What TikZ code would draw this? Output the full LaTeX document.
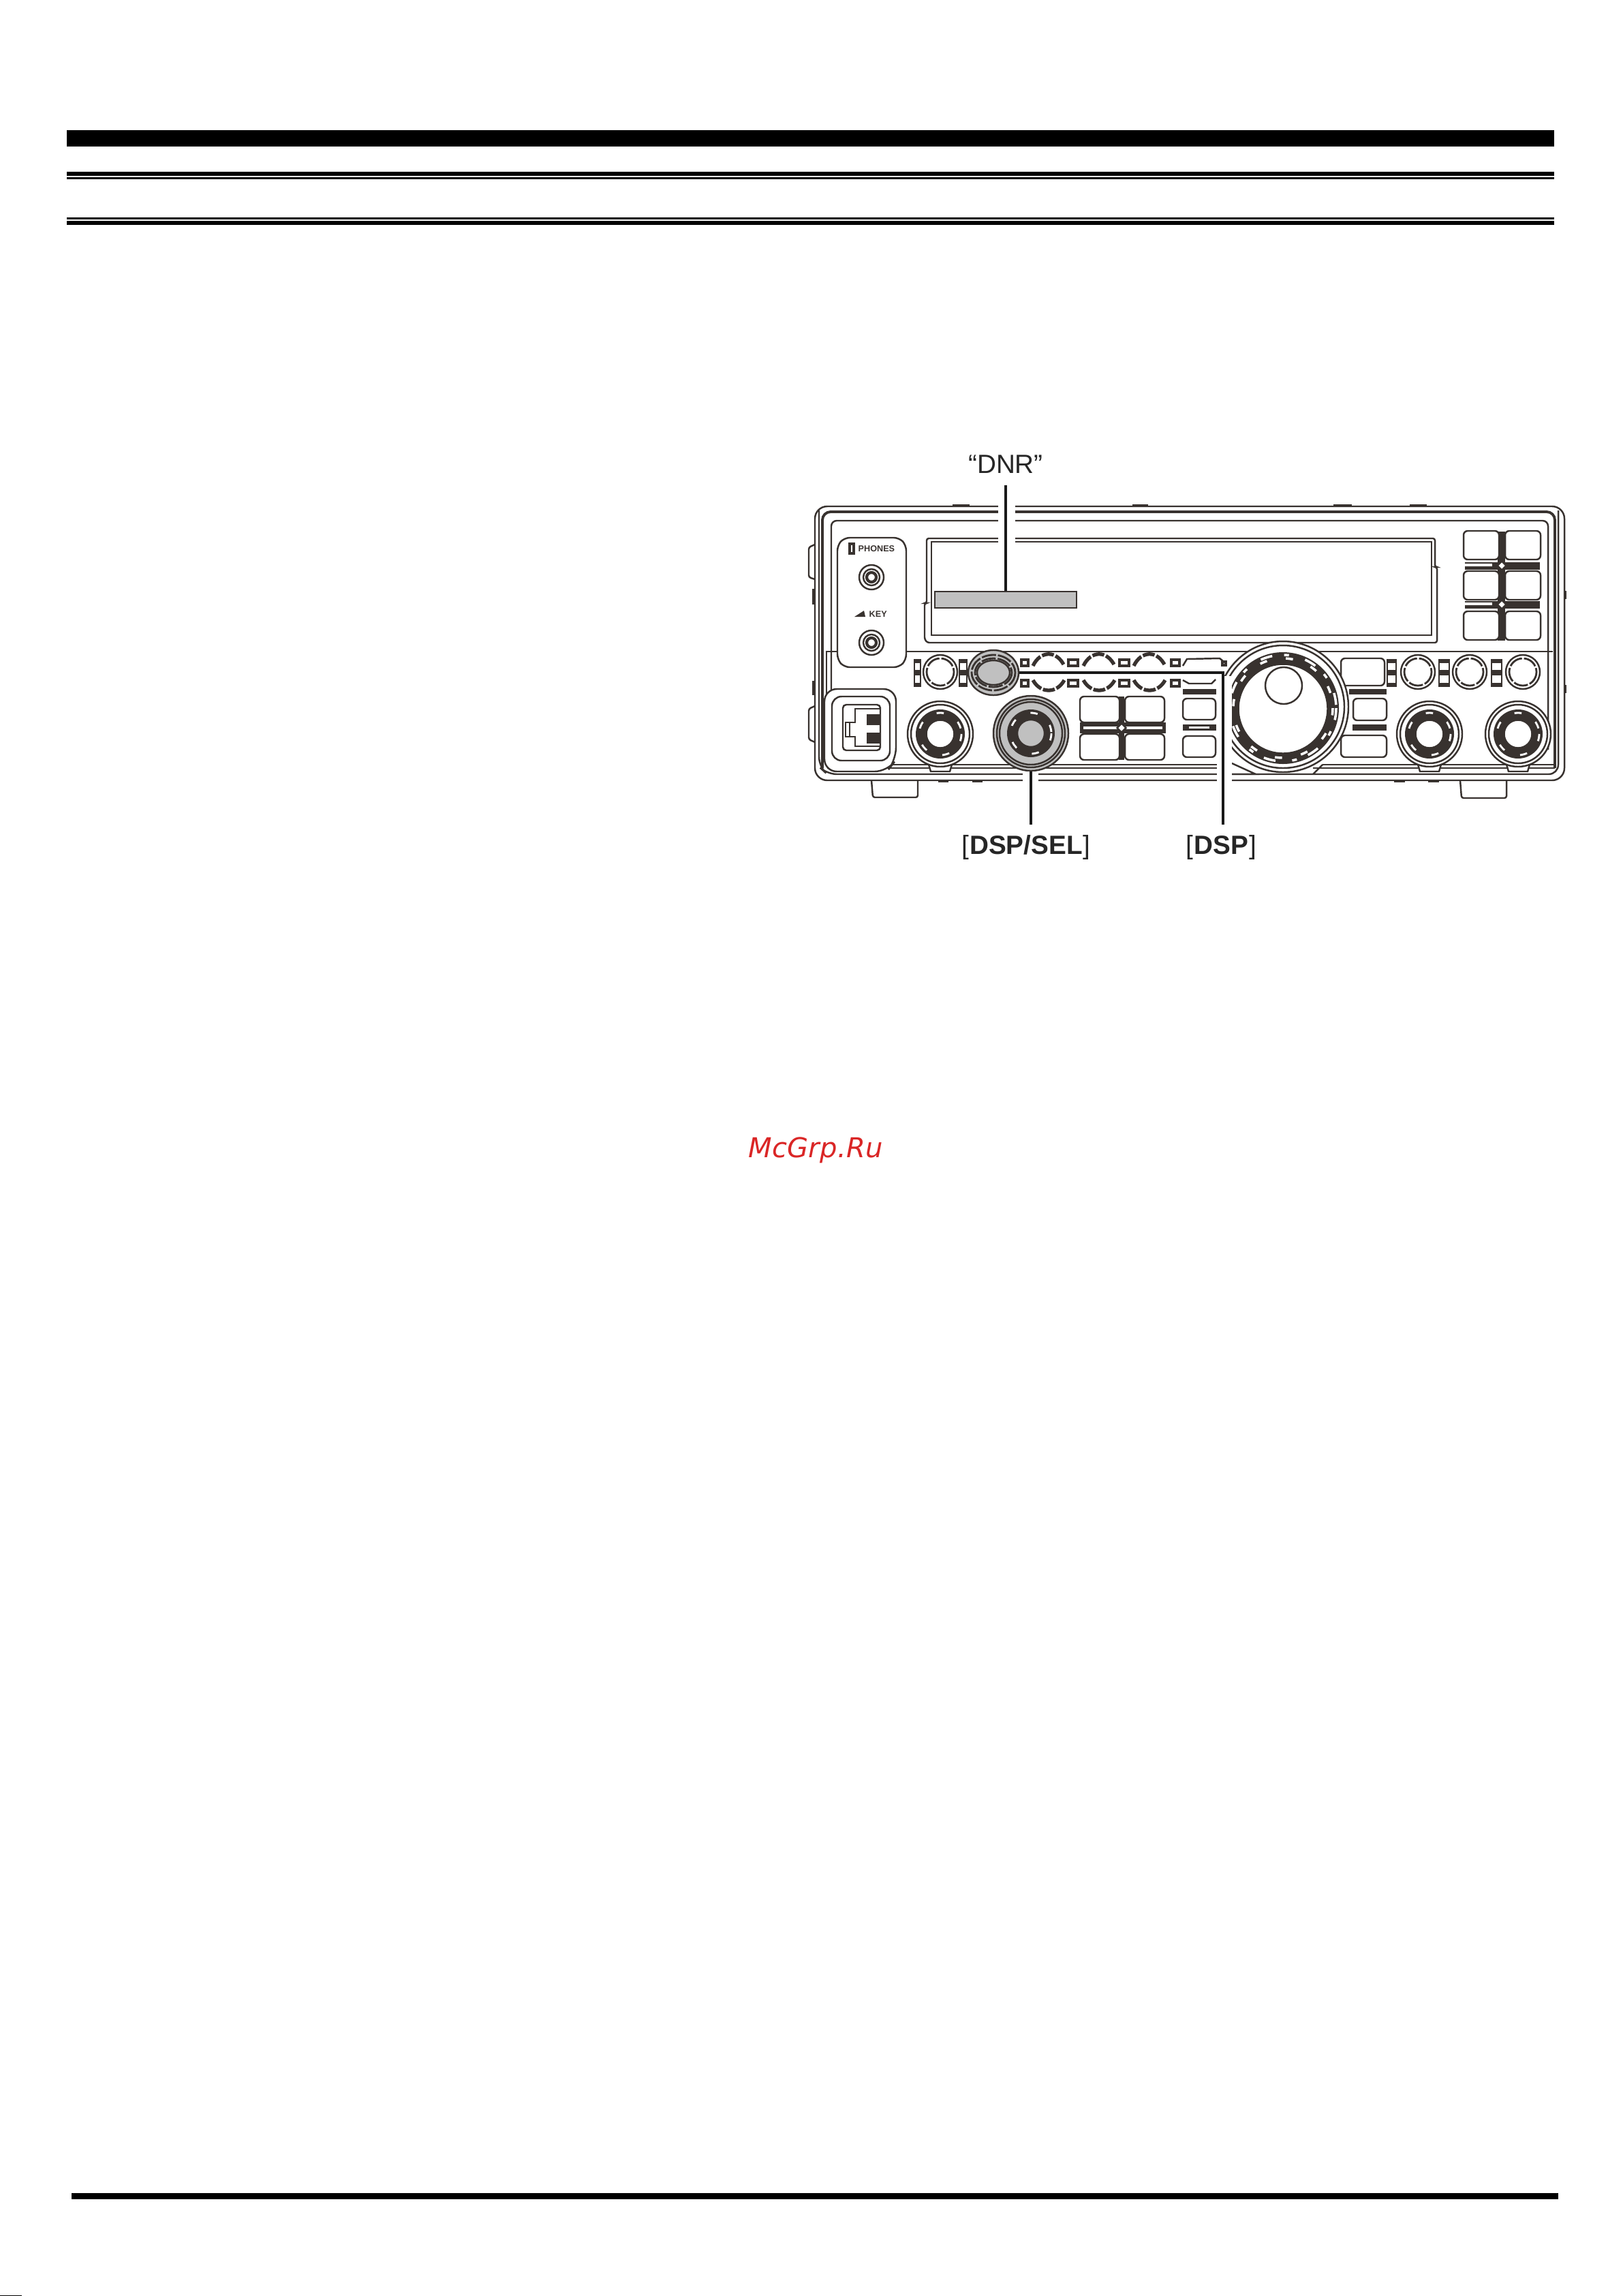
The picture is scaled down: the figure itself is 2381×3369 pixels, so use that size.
\documentclass[tikz,border=0pt]{standalone}
\usepackage{fontspec}
\setmainfont{Liberation Sans}
\newfontfamily\markfont[LetterSpace=0.6]{DejaVu Sans}
\usetikzlibrary{shapes.geometric, positioning, calc}
\definecolor{inkdark}{RGB}{56, 50, 47}
\definecolor{labelink}{RGB}{38, 38, 38}
\definecolor{knobgrey}{RGB}{192, 192, 192}
\definecolor{markred}{RGB}{218, 38, 38}

\begin{document}
\begin{tikzpicture}[
        x=0.01cm, y=-0.01cm,
        rule/.style={fill=black},
        outline/.style={draw=inkdark, line width=0.7pt},
        heavy/.style={draw=inkdark, line width=1.1pt},
        panelkey/.style={outline, fill=white, rounded corners=0.06cm},
        band/.style={fill=inkdark},
        rim/.style={draw=inkdark, line width=0.8pt, dash pattern=on 6pt off 0.8pt},
        beads/.style={draw=inkdark, line width=1.5pt, dash pattern=on 5pt off 0.8pt},
        leader/.style={draw=black!90, line width=1.4pt},
        halo/.style={fill=white},
        crossing/.style={draw=inkdark, line width=0.7pt, fill=white, diamond, inner sep=0pt, minimum size=0.14cm},
        callout/.style={inner sep=0pt, font=\fontsize{11}{13}\selectfont, text=labelink},
        tiny label/.style={inner sep=0pt, font=\bfseries\fontsize{3.6}{4}\selectfont, text=inkdark}
    ]
        \useasboundingbox (0,0) rectangle (2381,3369);

        % Page rules
        \fill[rule] (98,191) rectangle (2281,215);
        \fill[rule] (98,252) rectangle (2281,258);
        \fill[rule] (98,260) rectangle (2281,263);
        \fill[rule] (98,319) rectangle (2281,322);
        \fill[rule] (98,324) rectangle (2281,330);
        \fill[rule] (105,3218) rectangle (2287,3227);
        \fill[rule] (0,3367.5) rectangle (32,3369);

        % Feet, tabs
        \draw[outline, rounded corners=0.03cm] (1279,1145) -- (1281,1170) -- (1347,1170) -- (1347,1145);
        \draw[outline, rounded corners=0.03cm] (2143,1145) -- (2145,1171) -- (2211,1171) -- (2211,1145);
        \draw[outline, rounded corners=0.03cm] (1196,799) -- (1187,803) -- (1187,847) -- (1196,850);
        \draw[outline, rounded corners=0.03cm] (1196,1036) -- (1187,1040) -- (1187,1085) -- (1196,1089);
        \fill[band] (1192,864) rectangle (1196,887);
        \fill[band] (1192,999) rectangle (1196,1020);
        \foreach \xa/\xb in {1398/1423, 1662/1685, 1957/1984, 2069/2094}
            \fill[band] (\xa,740) rectangle (\xb,743);
        \foreach \xa/\xb in {1377/1392, 1427/1442, 2046/2062, 2096/2112}
            \fill[band] (\xa,1145) rectangle (\xb,1148);
        \foreach \yy in {873, 1011}
            \fill[band] (2296,\yy-6) rectangle (2299,\yy+6);

        % Case
        \draw[outline, rounded corners=0.18cm] (1196,743) rectangle (2296,1145);
        \draw[outline, rounded corners=0.14cm] (1202,749) -- (1202,1125) -- (1214,1136) -- (2287,1136) -- (2287,749);
        \draw[heavy, rounded corners=0.12cm] (1207,1127) -- (1207,751) -- (2282,751) -- (2282,1127);
        \draw[outline, rounded corners=0.08cm] (1220,1060) -- (1220,764) -- (2272,764) -- (2272,1100);
        \draw[outline] (1213,955) -- (1213,1122);
        \draw[outline] (1214,1122) -- (1808,1122);
        \draw[outline] (1214,1127) -- (1808,1127);
        \draw[outline] (1941,1122) -- (2282,1122);
        \draw[outline] (1927,1127) -- (2282,1127);
        \draw[outline] (1808,1136) -- (1843,1136) -- (1808,1120);
        \draw[outline] (1927,1136) -- (1941,1122);
        \draw[outline] (1330,956) -- (2279,956);
        \draw[outline] (1213,956) -- (1229,956);

        % Display
        \draw[outline, rounded corners=0.03cm] (1360,885) -- (1360,790) -- (2106,790) -- (2106,832) -- (2109,832) -- (2109,943) -- (1361,943) -- (1357,938) -- (1357,885) -- cycle;
        \draw[outline] (1367,795) rectangle (2101,932);

        % Phones and key block
        \draw[outline, fill=white, rounded corners=0.08cm] (1229,800) -- (1239,789) -- (1320,789) -- (1330,800) -- (1330,968) -- (1320,979) -- (1239,979) -- (1229,968) -- cycle;
        \draw[outline, line width=1.2pt] (1247,798) rectangle (1253,812);
        \node[tiny label, anchor=west] (phoneslabel) at (1259,805) {PHONES};
        \node[tiny label, anchor=west] (keylabel) at (1275,901) {KEY};
        \fill[band] (1254,905) -- (1268,896) -- (1270,905) -- cycle;
        \foreach \yy in {847, 943} {
            \draw[outline, fill=white] (1279,\yy) circle [radius=18];
            \draw[outline] (1279,\yy) circle [radius=12];
            \draw[outline, line width=1.2pt] (1279,\yy) circle [radius=7];
        }

        % Network jack block
        \draw[outline, fill=white, rounded corners=0.18cm] (1210,1132) -- (1210,1011) -- (1315,1011) -- (1315,1115) -- (1302,1132) -- cycle;
        \draw[outline, rounded corners=0.14cm] (1221,1022) rectangle (1306,1116);
        \draw[outline, rounded corners=0.05cm] (1237,1034) rectangle (1292,1101);
        \draw[outline] (1255,1040) -- (1292,1040) -- (1292,1095) -- (1255,1095) -- (1255,1081) -- (1247,1081) -- (1247,1060) -- (1255,1060) -- cycle;
        \draw[outline] (1241,1060) rectangle (1247,1081);
        \fill[band] (1272,1048) rectangle (1292,1064);
        \fill[band] (1272,1075) rectangle (1292,1091);

        % Row of small knobs
        \foreach \kx in {1380, 2081, 2157, 2235} {
            \draw[outline, fill=white] (\kx,986) circle [radius=25];
            \draw[rim] (\kx,986) circle [radius=20];
        }
        \foreach \xa/\xb in {1342/1351, 1408/1419, 2036/2049, 2112/2127, 2189/2204} {
            \draw[outline, fill=white] (\xa,968) rectangle (\xb,1007);
            \fill[band] (\xa,968) rectangle (\xb,973);
            \fill[band] (\xa,1002) rectangle (\xb,1007);
            \fill[band] (\xa,983) rectangle (\xb,991);
        }
        \foreach \kx in {1539, 1613, 1687} {
            \draw[beads] (\kx-23,977) .. controls (\kx-12,954) and (\kx+12,954) .. (\kx+23,977);
            \draw[beads] (\kx-23,998) .. controls (\kx-12,1018) and (\kx+12,1018) .. (\kx+23,998);
        }
        \foreach \xa/\xb in {1499/1509, 1568/1582, 1643/1657, 1719/1731} {
            \draw[outline, line width=1.2pt] (\xa,968) rectangle (\xb,977);
            \draw[outline, line width=1.2pt] (\xa,998) rectangle (\xb,1007);
        }
        \draw[outline] (1736,977) -- (1742,967) -- (1790,966) -- (1795,970);
        \draw[outline, line width=1.2pt] (1794,971) rectangle (1799,976);
        \draw[outline] (1736,998) -- (1745,1003) -- (1778,1003) -- (1784,997);

        % Center key column
        \fill[band] (1736,1011) rectangle (1785,1019);
        \fill[band] (1736,1063) rectangle (1785,1072);
        \fill[white] (1745,1066) rectangle (1775,1069);
        \draw[panelkey] (1736,1025) rectangle (1784,1056);
        \draw[panelkey] (1736,1080) rectangle (1784,1111);

        % Four key group
        \fill[band] (1642,1022) rectangle (1650,1115);
        \fill[band] (1585,1060) rectangle (1711,1076);
        \fill[white] (1590,1066) rectangle (1706,1070);
        \foreach \kx/\ky in {1585/1022, 1651/1022, 1585/1077, 1651/1077}
            \draw[panelkey] (\kx,\ky) rectangle (\kx+58,\ky+38);
        \node[crossing] (fourcross) at (1646,1068) {};

        % Right key block
        \fill[band] (2198,780) rectangle (2209,940);
        \fill[band] (2150,825) rectangle (2260,836);
        \fill[band] (2150,882) rectangle (2260,893);
        \fill[white] (2150,827) rectangle (2190,831);
        \fill[white] (2150,884) rectangle (2190,888);
        \foreach \kx in {2148, 2209}
            \foreach \ky in {779, 838, 897}
                \draw[panelkey] (\kx,\ky) rectangle (\kx+52,\ky+42);
        \node[crossing] (uppercross) at (2204,830) {};
        \node[crossing] (lowercross) at (2204,887) {};

        % Keys beside the dial
        \fill[band] (1980,1011) rectangle (2035,1019);
        \fill[band] (1985,1063) rectangle (2035,1072);
        \draw[panelkey] (1968,966) rectangle (2032,1006);
        \draw[panelkey] (1986,1025) rectangle (2035,1057);
        \draw[panelkey] (1968,1079) rectangle (2035,1111);

        % Main dial
        \draw[outline, fill=white] (1883,1037) circle [radius=96];
        \draw[outline] (1883,1037) circle [radius=90];
        \fill[inkdark] (1883,1039) circle [radius=82];
        \draw[white, line width=1pt, dash pattern=on 5pt off 5pt on 2pt off 7pt] (1883,1039) circle [radius=78];
        \draw[white, line width=1pt, dash pattern=on 3pt off 8pt] (1883,1039) circle [radius=73];
        \draw[outline, fill=white] (1883,1040) circle [radius=65.5];
        \draw[outline] (1884,1006) circle [radius=27];

        % Other knobs
        \foreach \kx in {1380, 2098, 2228} {
            \draw[outline, fill=white] (\kx-17,1122) -- (\kx-14,1132) -- (\kx+14,1132) -- (\kx+17,1122);
            \draw[outline, fill=white] (\kx,1077) circle [radius=48];
            \draw[outline] (\kx,1077) circle [radius=43];
            \fill[inkdark] (\kx,1077) circle [radius=36];
            \draw[white, line width=0.8pt, dash pattern=on 3pt off 7pt] (\kx,1077) circle [radius=31];
            \draw[outline, fill=white] (\kx,1077) circle [radius=20.5];
        }

        % Knobs called out
        \node[ellipse, outline, fill=knobgrey, inner sep=0pt, minimum width=0.74cm, minimum height=0.66cm] (dspknob) at (1458,987) {};
        \draw[rim] (1458,987) ellipse [x radius=32, y radius=26];
        \draw[rim] (1458,987) ellipse [x radius=27, y radius=21];
        \draw[outline] (1458,987) ellipse [x radius=24, y radius=18];
        \node[circle, outline, fill=knobgrey, inner sep=0pt, minimum size=1.1cm] (selknob) at (1513,1076) {};
        \draw[outline] (1513,1076) circle [radius=50];
        \draw[outline] (1513,1076) circle [radius=46];
        \fill[inkdark] (1513,1076) circle [radius=35];
        \draw[white, line width=0.8pt, dash pattern=on 3pt off 7pt] (1513,1076) circle [radius=30];
        \draw[outline, fill=knobgrey] (1513,1076) circle [radius=20];

        % Gaps round the leaders
        \fill[halo] (1465,733) rectangle (1490,800);
        \fill[halo] (1501,1132) rectangle (1524,1152);
        \fill[halo] (1786,992) rectangle (1808,1152);
        \fill[halo] (1497,979) rectangle (1786,995);

        % Display bar and labels
        \node[rectangle, outline, line width=0.8pt, fill=knobgrey, inner sep=0pt, minimum width=2.08cm, minimum height=0.24cm] (dnrbar) at (1476,880) {};
        \node[callout, minimum height=0.6cm] (dnrlabel) at (1476,681) {“DNR”};
        \node[callout, minimum height=0.64cm] (sellabel) at (1506,1243) {[\kern0.3pt\textbf{DSP/SEL}\kern0.3pt]};
        \node[callout, minimum height=0.64cm] (dsplabel) at (1792.5,1243) {[\kern0.3pt\textbf{DSP}\kern0.3pt]};
        \node[inner sep=0pt, text=markred, font=\markfont\itshape\fontsize{11.4}{13}\selectfont] (mark) at (1197,1688) {McGrp.Ru};

        % Leaders
        \draw[leader] (dnrlabel.south) -- (dnrbar.north);
        \draw[leader] (selknob.south) -- (selknob.south |- sellabel.north);
        \draw[leader] (dspknob.east) -| ([xshift=0.025cm]dsplabel.north);
    \end{tikzpicture}
\end{document}
